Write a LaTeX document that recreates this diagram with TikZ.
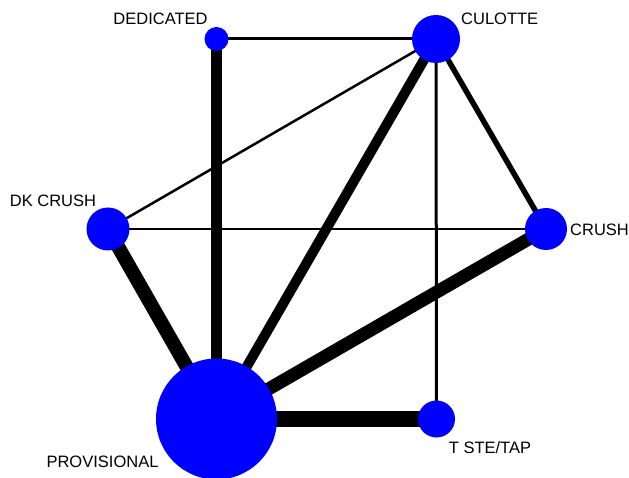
\documentclass[tikz,border=0pt]{standalone}
\usepackage{fontspec}
\setmainfont{Liberation Sans}
\usetikzlibrary{backgrounds}
\definecolor{nodeblue}{RGB}{0,0,255}
\begin{document}
\begin{tikzpicture}[x=1pt,y=-1pt,
  trt/.style={circle,fill=nodeblue,draw=none,inner sep=0pt,minimum size=#1},
  lbl/.style={font=\fontsize{16.5}{18}\selectfont,inner sep=0pt},
  edge/.style={line width=#1,draw=black}]
\useasboundingbox (0,0) rectangle (629,478);
% treatments
\node[trt=24pt] (ded) at (216.5,39) {};
\node[trt=48pt] (cul) at (436,39) {};
\node[trt=43pt] (dk) at (108,229) {};
\node[trt=42pt] (cr) at (546,229) {};
\node[trt=121pt] (prov) at (216.5,419) {};
\node[trt=37pt] (tste) at (436.5,419) {};
% labels
\node[lbl] (lded) at (160.5,19) {DEDICATED};
\node[lbl,anchor=west] (lcul) at (461,19) {CULOTTE};
\node[lbl] (ldk) at (53,201) {DK CRUSH};
\node[lbl,anchor=west] (lcr) at (570,230) {CRUSH};
\node[lbl] (lprov) at (102.5,462) {PROVISIONAL};
\node[lbl] (ltste) at (490,448) {T STE/TAP};
% comparisons
\begin{pgfonlayer}{background}
\draw[edge=3pt] (ded.center) -- (cul.center);
\draw[edge=10.5pt] (ded.center) -- (prov.center);
\draw[edge=2.5pt] (cul.center) -- (dk.center);
\draw[edge=10pt] (cul.center) -- (prov.center);
\draw[edge=5.5pt] (cul.center) -- (cr.center);
\draw[edge=3pt] (cul.center) -- (tste.center);
\draw[edge=2.5pt] (dk.center) -- (cr.center);
\draw[edge=14pt] (dk.center) -- (prov.center);
\draw[edge=13pt] (cr.center) -- (prov.center);
\draw[edge=16.5pt] (prov.center) -- (tste.center);
\end{pgfonlayer}
\end{tikzpicture}
\end{document}
